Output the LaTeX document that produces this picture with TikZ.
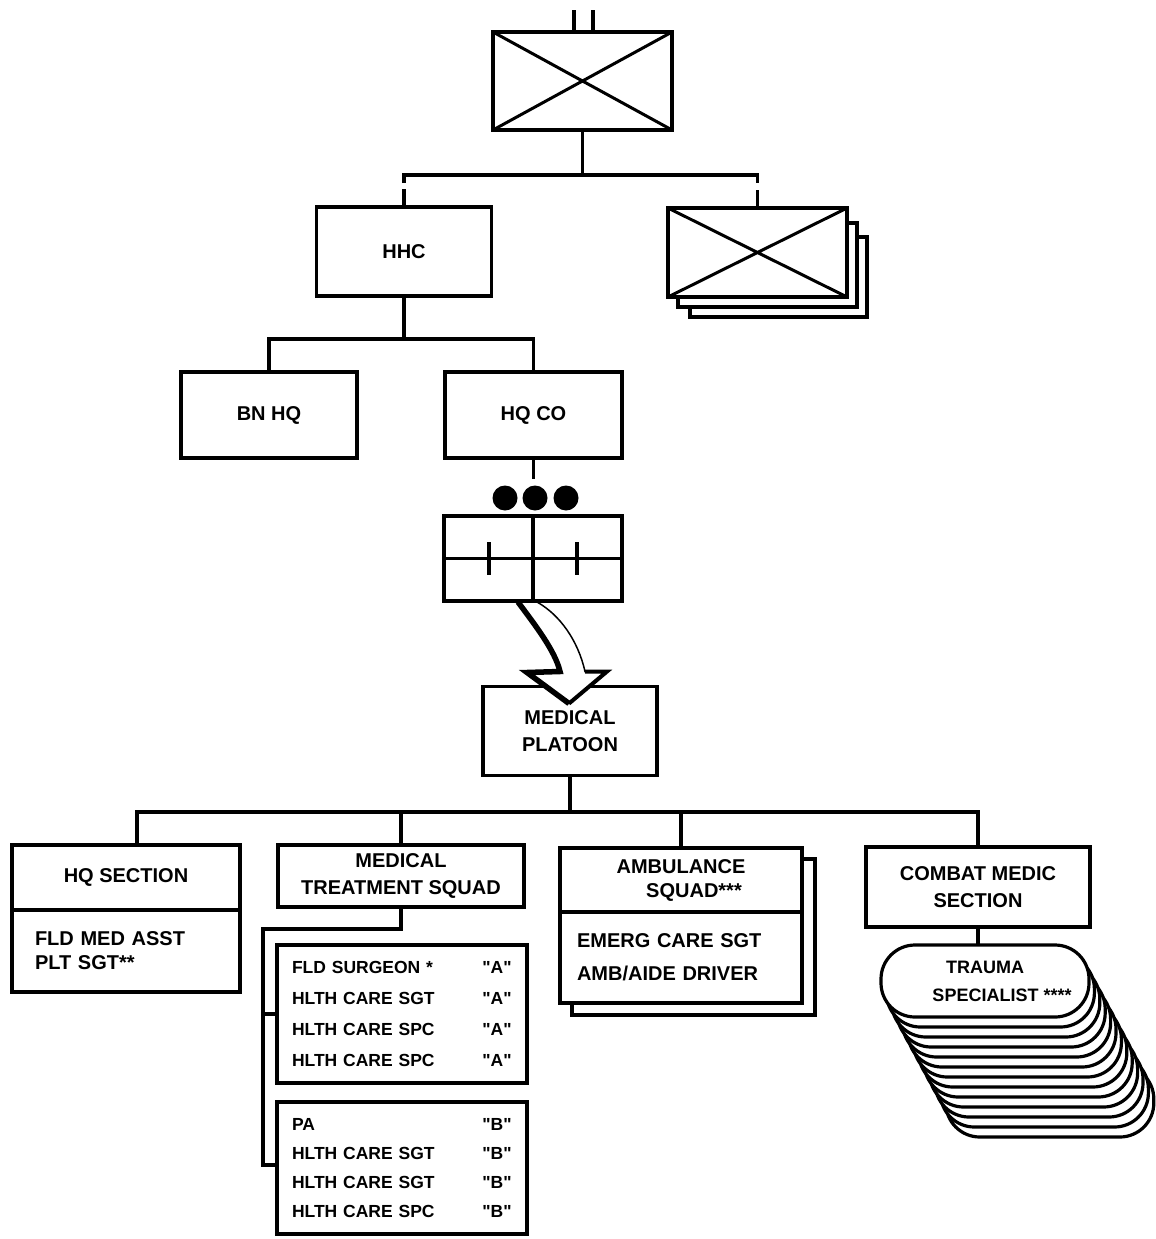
\documentclass[tikz,border=0pt]{standalone}
\usepackage{fontspec}
\setmainfont{Liberation Sans}[Ligatures=TeXOff]
\usetikzlibrary{calc,backgrounds}
\tikzset{
  ln/.style={line width=3.6pt},
  xline/.style={line width=3pt},
  box/.style={draw, line width=3.8pt, fill=white, inner sep=0pt, outer sep=0pt, align=center,
    font=\fontsize{20pt}{27pt}\selectfont\bfseries},
  bodybox/.style={draw, line width=3.8pt, fill=white, inner ysep=0pt, outer sep=0pt, align=left},
  listbox/.style={draw, line width=3.8pt, fill=white, inner ysep=0pt, inner xsep=15pt, outer sep=0pt,
    text width=220pt, align=left, minimum width=250pt},
  stadium/.style={draw, line width=3.2pt, fill=white, rounded corners=34pt, outer sep=0pt,
    minimum width=208pt, minimum height=72pt, inner sep=0pt, align=center,
    font=\fontsize{18pt}{28pt}\selectfont\bfseries},
  backbox/.style={draw, line width=3.8pt, fill=white},
}
\newcommand{\rowA}[2]{\makebox[190pt][l]{#1}\makebox[30pt]{#2}}
\begin{document}
\begin{tikzpicture}[x=1pt,y=-1pt]
\useasboundingbox (0,0) rectangle (1156,1239);
\begin{scope}[on background layer]
  \fill[white] (0,0) rectangle (1156,1239);
\end{scope}

% ---- top battalion symbol
\node[box, minimum width=179pt, minimum height=98pt] (bde) at (582.5,81) {};
\draw[xline] (bde.north west) -- (bde.south east) (bde.north east) -- (bde.south west);
\draw[ln] ($(bde.north)+(-8.5,0)$) -- ++(0,-22);
\draw[ln] ($(bde.north)+(10.5,0)$) -- ++(0,-22);

\coordinate (bus1) at (582.5,175);
\draw[ln] (bde.south) -- (bus1);

% ---- HHC and companies
\node[box, minimum width=175pt, minimum height=89pt] (hhc) at (404,251.5) {HHC};
\node[box, minimum width=179pt, minimum height=89pt] (bns) at (757.5,252.5) {};
\draw[xline] (bns.north west) -- (bns.south east) (bns.north east) -- (bns.south west);
\begin{scope}[on background layer]
  \draw[backbox] ($(bns.north west)+(22,29)$) rectangle ($(bns.south east)+(20,20)$);
  \draw[backbox] ($(bns.north west)+(10,15)$) rectangle ($(bns.south east)+(10,10)$);
\end{scope}
\draw[ln] (hhc.north |- bus1) ++(0,8) -- (hhc.north |- bus1) -- (bns.north |- bus1) -- ++(0,8);
\draw[ln] (hhc.north) -- ++(0,-18);
\draw[ln] (bns.north) -- ++(0,-18);

% ---- BN HQ / HQ CO
\node[box, minimum width=176pt, minimum height=86pt] (bnhq) at (269,415) {BN HQ};
\node[box, minimum width=177pt, minimum height=86pt] (hqco) at (533.5,415) {HQ CO};
\coordinate (bus2) at (404,339);
\draw[ln] (hhc.south) -- (bus2);
\draw[ln] (bnhq.north) |- (bus2) -| (hqco.north);
\draw[ln] (hqco.south) -- ++(0,21);

% ---- platoon symbol
\fill (505,498) circle (12.5pt);
\fill (535,498) circle (12.5pt);
\fill (566,498) circle (12.5pt);
\node[box, minimum width=178pt, minimum height=85pt] (plt) at (533,558.5) {};
\draw[line width=3.2pt] (plt.north) -- (plt.south) (plt.west) -- (plt.east);
\draw[line width=3.2pt] ($(plt.center)+(-44,-16.5)$) -- ++(0,33);
\draw[line width=3.2pt] ($(plt.center)+(44,-16.5)$) -- ++(0,33);

% ---- medical platoon
\node[box, minimum width=174pt, minimum height=89pt] (medplt) at (570,731) {MEDICAL\\PLATOON};

% curved arrow
\filldraw[fill=white, line width=1.5pt, line join=miter]
  ($(plt.south)+(-15,1)$) .. controls +(17,23) and +(-5,-21) .. ($(medplt.north)+(-10,-15)$)
  -- ($(medplt.north)+(-43,-14)$) -- ($(medplt.north)+(-1,17)$) -- ($(medplt.north)+(37,-15)$)
  -- ($(medplt.north)+(15,-15)$)
  .. controls +(-7,-31) and +(23,13) .. ($(plt.south)+(4,1)$) -- cycle;
\draw[line width=5.5pt, line join=miter]
  ($(plt.south)+(-15,1)$) .. controls +(17,23) and +(-5,-21) .. ($(medplt.north)+(-10,-15)$)
  -- ($(medplt.north)+(-43,-14)$) -- ($(medplt.north)+(-1,17)$);
\draw[line width=4pt, line join=miter]
  ($(medplt.north)+(-1,17)$) -- ($(medplt.north)+(37,-15)$) -- ($(medplt.north)+(15,-15)$);

% ---- sections
\coordinate (bus3) at (570,812);
\node[box, minimum width=228pt, minimum height=65pt] (hqs) at (126,877.5) {HQ SECTION};
\node[bodybox, anchor=north, minimum width=228pt, minimum height=82pt, inner xsep=23pt,
  text width=182pt, font=\fontsize{20pt}{24pt}\selectfont\bfseries] (hqsb) at (hqs.south)
  {FLD MED ASST\\PLT SGT**};

\node[box, minimum width=246pt, minimum height=62pt] (mts) at (401,876) {MEDICAL\\TREATMENT SQUAD};

\node[box, minimum width=242pt, minimum height=64pt, font=\fontsize{20pt}{24pt}\selectfont\bfseries]
  (amb) at (681,880) {AMBULANCE\\\hspace*{26pt}SQUAD***};
\node[bodybox, anchor=north, minimum width=242pt, minimum height=91pt, inner xsep=17pt,
  text width=208pt, font=\fontsize{20pt}{33pt}\selectfont\bfseries] (ambb) at (amb.south)
  {EMERG CARE SGT\\AMB/AIDE DRIVER};
\begin{scope}[on background layer]
  \draw[backbox] ($(amb.north west)+(12,11)$) rectangle ($(ambb.south east)+(13,12)$);
\end{scope}

\node[box, minimum width=224pt, minimum height=80pt] (cmed) at (978,887) {COMBAT MEDIC\\SECTION};

\draw[ln] ($(hqs.north)+(11,0)$) |- (cmed.north |- bus3) -- (cmed.north);
\draw[ln] (medplt.south) -- (bus3);
\draw[ln] (mts.north) -- (mts.north |- bus3);
\draw[ln] (amb.north) -- (amb.north |- bus3);

% ---- treatment squad lists
\node[listbox, minimum height=138pt, font=\fontsize{17.5pt}{31pt}\selectfont\bfseries] (sqA) at (402,1014)
  {\rowA{FLD SURGEON *}{"A"}\\\rowA{HLTH CARE SGT}{"A"}\\\rowA{HLTH CARE SPC}{"A"}\\\rowA{HLTH CARE SPC}{"A"}};
\node[listbox, minimum height=132pt, font=\fontsize{17.5pt}{29pt}\selectfont\bfseries] (sqB) at (402,1168)
  {\rowA{PA}{"B"}\\\rowA{HLTH CARE SGT}{"B"}\\\rowA{HLTH CARE SGT}{"B"}\\\rowA{HLTH CARE SPC}{"B"}};
\coordinate (brkT) at (263,929);
\coordinate (brkB) at (263,1165);
\draw[ln] (mts.south) |- (brkT) -- (brkB) -- (brkB -| sqB.west);
\draw[ln] (sqA.west) -- (sqA.west -| brkT);

% ---- trauma specialists
\node[stadium] (ts) at (985,981) {TRAUMA\\\hspace*{34pt}SPECIALIST ****};
\begin{scope}[on background layer]
  \foreach \i in {12,11,...,1} {
    \node[stadium] (ts\i) at ($(ts.center)+(5.4*\i,10*\i)$) {};
  }
\end{scope}
\draw[ln] (cmed.south) -- (cmed.south |- ts.north);
\end{tikzpicture}
\end{document}
